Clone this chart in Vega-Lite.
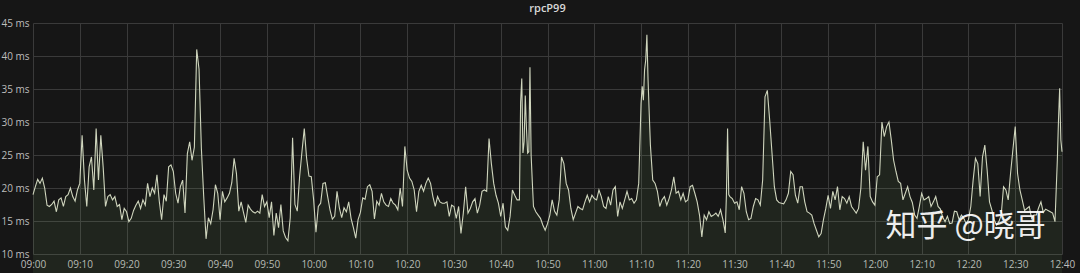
{
  "$schema": "https://vega.github.io/schema/vega-lite/v6.json",
  "width": 1029,
  "height": 231,
  "autosize": "none",
  "padding": {"left": 33, "top": 23, "right": 18, "bottom": 19},
  "background": "#161616",
  "config": {"view": {"stroke": null}},
  "title": {"text": "rpcP99", "color": "#d8d8d8", "fontSize": 11, "fontWeight": 600, "font": "Open Sans", "offset": 4, "anchor": "middle"},
  "data": {"values": [
      {"t":"2020-01-01T09:00:00","v":19},{"t":"2020-01-01T09:00:30","v":20.2},{"t":"2020-01-01T09:01:00","v":21.3},{"t":"2020-01-01T09:01:30","v":20.7},{"t":"2020-01-01T09:02:00","v":21.5},{"t":"2020-01-01T09:02:30","v":20},{"t":"2020-01-01T09:03:00","v":17.4},{"t":"2020-01-01T09:03:30","v":17.2},{"t":"2020-01-01T09:04:00","v":17.5},{"t":"2020-01-01T09:04:30","v":18},{"t":"2020-01-01T09:05:00","v":16.4},{"t":"2020-01-01T09:05:30","v":18.2},{"t":"2020-01-01T09:06:00","v":18.5},{"t":"2020-01-01T09:06:30","v":17.2},{"t":"2020-01-01T09:07:00","v":18.7},{"t":"2020-01-01T09:07:30","v":19},{"t":"2020-01-01T09:08:00","v":20},{"t":"2020-01-01T09:08:30","v":18.7},{"t":"2020-01-01T09:09:00","v":18},{"t":"2020-01-01T09:09:30","v":19.7},
      {"t":"2020-01-01T09:10:00","v":20.7},{"t":"2020-01-01T09:10:30","v":28},{"t":"2020-01-01T09:11:00","v":21.2},{"t":"2020-01-01T09:11:30","v":17.2},{"t":"2020-01-01T09:12:00","v":23.2},{"t":"2020-01-01T09:12:30","v":24.7},{"t":"2020-01-01T09:13:00","v":19.7},{"t":"2020-01-01T09:13:30","v":29},{"t":"2020-01-01T09:14:00","v":21.2},{"t":"2020-01-01T09:14:30","v":28},{"t":"2020-01-01T09:15:00","v":23.2},{"t":"2020-01-01T09:15:30","v":17.2},{"t":"2020-01-01T09:16:00","v":18.7},{"t":"2020-01-01T09:16:30","v":19},{"t":"2020-01-01T09:17:00","v":18.2},{"t":"2020-01-01T09:17:30","v":18.7},{"t":"2020-01-01T09:18:00","v":17.2},{"t":"2020-01-01T09:18:30","v":17.5},{"t":"2020-01-01T09:19:00","v":15.2},{"t":"2020-01-01T09:19:30","v":16.9},
      {"t":"2020-01-01T09:20:00","v":16.4},{"t":"2020-01-01T09:20:30","v":14.9},{"t":"2020-01-01T09:21:00","v":15.4},{"t":"2020-01-01T09:21:30","v":16.6},{"t":"2020-01-01T09:22:00","v":17.4},{"t":"2020-01-01T09:22:30","v":18},{"t":"2020-01-01T09:23:00","v":16.9},{"t":"2020-01-01T09:23:30","v":18.2},{"t":"2020-01-01T09:24:00","v":17.4},{"t":"2020-01-01T09:24:30","v":20.7},{"t":"2020-01-01T09:25:00","v":18.7},{"t":"2020-01-01T09:25:30","v":20},{"t":"2020-01-01T09:26:00","v":19.2},{"t":"2020-01-01T09:26:30","v":22},{"t":"2020-01-01T09:27:00","v":18},{"t":"2020-01-01T09:27:30","v":15.2},{"t":"2020-01-01T09:28:00","v":19},{"t":"2020-01-01T09:28:30","v":18},{"t":"2020-01-01T09:29:00","v":23.2},{"t":"2020-01-01T09:29:30","v":23.5},
      {"t":"2020-01-01T09:30:00","v":22.5},{"t":"2020-01-01T09:30:30","v":19.2},{"t":"2020-01-01T09:31:00","v":17.7},{"t":"2020-01-01T09:31:30","v":20.2},{"t":"2020-01-01T09:32:00","v":21.2},{"t":"2020-01-01T09:32:30","v":16.2},{"t":"2020-01-01T09:33:00","v":25.2},{"t":"2020-01-01T09:33:30","v":27},{"t":"2020-01-01T09:34:00","v":24.2},{"t":"2020-01-01T09:34:30","v":26.2},{"t":"2020-01-01T09:35:00","v":41},{"t":"2020-01-01T09:35:30","v":38},{"t":"2020-01-01T09:36:00","v":26},{"t":"2020-01-01T09:36:30","v":18.7},{"t":"2020-01-01T09:37:00","v":12.3},{"t":"2020-01-01T09:37:30","v":15.5},{"t":"2020-01-01T09:38:00","v":14.6},{"t":"2020-01-01T09:38:30","v":16.7},{"t":"2020-01-01T09:39:00","v":20.5},{"t":"2020-01-01T09:39:30","v":19.2},
      {"t":"2020-01-01T09:40:00","v":15.2},{"t":"2020-01-01T09:40:30","v":19.5},{"t":"2020-01-01T09:41:00","v":17.9},{"t":"2020-01-01T09:41:30","v":18.5},{"t":"2020-01-01T09:42:00","v":19.2},{"t":"2020-01-01T09:42:30","v":20.8},{"t":"2020-01-01T09:43:00","v":24.5},{"t":"2020-01-01T09:43:30","v":22.2},{"t":"2020-01-01T09:44:00","v":16.5},{"t":"2020-01-01T09:44:30","v":17.9},{"t":"2020-01-01T09:45:00","v":16.3},{"t":"2020-01-01T09:45:30","v":14.8},{"t":"2020-01-01T09:46:00","v":17.4},{"t":"2020-01-01T09:46:30","v":16.8},{"t":"2020-01-01T09:47:00","v":16.4},{"t":"2020-01-01T09:47:30","v":16.2},{"t":"2020-01-01T09:48:00","v":16.5},{"t":"2020-01-01T09:48:30","v":16.2},{"t":"2020-01-01T09:49:00","v":19},{"t":"2020-01-01T09:49:30","v":17.2},
      {"t":"2020-01-01T09:50:00","v":17.9},{"t":"2020-01-01T09:50:30","v":15.5},{"t":"2020-01-01T09:51:00","v":17.9},{"t":"2020-01-01T09:51:30","v":12.8},{"t":"2020-01-01T09:52:00","v":16.2},{"t":"2020-01-01T09:52:30","v":14},{"t":"2020-01-01T09:53:00","v":17.5},{"t":"2020-01-01T09:53:30","v":13.5},{"t":"2020-01-01T09:54:00","v":12.5},{"t":"2020-01-01T09:54:30","v":12},{"t":"2020-01-01T09:55:00","v":15.5},{"t":"2020-01-01T09:55:30","v":27.6},{"t":"2020-01-01T09:56:00","v":17.5},{"t":"2020-01-01T09:56:30","v":16.5},{"t":"2020-01-01T09:57:00","v":21.7},{"t":"2020-01-01T09:57:30","v":25.5},{"t":"2020-01-01T09:58:00","v":29},{"t":"2020-01-01T09:58:30","v":24.5},{"t":"2020-01-01T09:59:00","v":21.8},{"t":"2020-01-01T09:59:30","v":21.7},
      {"t":"2020-01-01T10:00:00","v":18.2},{"t":"2020-01-01T10:00:30","v":13.3},{"t":"2020-01-01T10:01:00","v":17.2},{"t":"2020-01-01T10:01:30","v":17.7},{"t":"2020-01-01T10:02:00","v":20.7},{"t":"2020-01-01T10:02:30","v":20.8},{"t":"2020-01-01T10:03:00","v":18.7},{"t":"2020-01-01T10:03:30","v":16.7},{"t":"2020-01-01T10:04:00","v":15.3},{"t":"2020-01-01T10:04:30","v":15.7},{"t":"2020-01-01T10:05:00","v":19.5},{"t":"2020-01-01T10:05:30","v":17},{"t":"2020-01-01T10:06:00","v":15.5},{"t":"2020-01-01T10:06:30","v":17},{"t":"2020-01-01T10:07:00","v":16.4},{"t":"2020-01-01T10:07:30","v":17.9},{"t":"2020-01-01T10:08:00","v":15.4},{"t":"2020-01-01T10:08:30","v":14},{"t":"2020-01-01T10:09:00","v":12.4},{"t":"2020-01-01T10:09:30","v":15.2},
      {"t":"2020-01-01T10:10:00","v":16.3},{"t":"2020-01-01T10:10:30","v":18.5},{"t":"2020-01-01T10:11:00","v":18.3},{"t":"2020-01-01T10:11:30","v":20.2},{"t":"2020-01-01T10:12:00","v":20.5},{"t":"2020-01-01T10:12:30","v":19.5},{"t":"2020-01-01T10:13:00","v":15.3},{"t":"2020-01-01T10:13:30","v":18},{"t":"2020-01-01T10:14:00","v":17.4},{"t":"2020-01-01T10:14:30","v":19.2},{"t":"2020-01-01T10:15:00","v":17.9},{"t":"2020-01-01T10:15:30","v":17.4},{"t":"2020-01-01T10:16:00","v":17.2},{"t":"2020-01-01T10:16:30","v":18.4},{"t":"2020-01-01T10:17:00","v":17.7},{"t":"2020-01-01T10:17:30","v":17.4},{"t":"2020-01-01T10:18:00","v":16.7},{"t":"2020-01-01T10:18:30","v":20},{"t":"2020-01-01T10:19:00","v":17.2},{"t":"2020-01-01T10:19:30","v":26.3},
      {"t":"2020-01-01T10:20:00","v":22.7},{"t":"2020-01-01T10:20:30","v":21.5},{"t":"2020-01-01T10:21:00","v":21},{"t":"2020-01-01T10:21:30","v":19.7},{"t":"2020-01-01T10:22:00","v":16.4},{"t":"2020-01-01T10:22:30","v":19.5},{"t":"2020-01-01T10:23:00","v":20.4},{"t":"2020-01-01T10:23:30","v":19.5},{"t":"2020-01-01T10:24:00","v":20.7},{"t":"2020-01-01T10:24:30","v":21.5},{"t":"2020-01-01T10:25:00","v":20.7},{"t":"2020-01-01T10:25:30","v":18.7},{"t":"2020-01-01T10:26:00","v":17.2},{"t":"2020-01-01T10:26:30","v":18.7},{"t":"2020-01-01T10:27:00","v":17.9},{"t":"2020-01-01T10:27:30","v":17.7},{"t":"2020-01-01T10:28:00","v":17.7},{"t":"2020-01-01T10:28:30","v":17.9},{"t":"2020-01-01T10:29:00","v":15.7},{"t":"2020-01-01T10:29:30","v":17.4},
      {"t":"2020-01-01T10:30:00","v":17.2},{"t":"2020-01-01T10:30:30","v":15.4},{"t":"2020-01-01T10:31:00","v":17.2},{"t":"2020-01-01T10:31:30","v":13.1},{"t":"2020-01-01T10:32:00","v":16.2},{"t":"2020-01-01T10:32:30","v":20.2},{"t":"2020-01-01T10:33:00","v":16.2},{"t":"2020-01-01T10:33:30","v":16.9},{"t":"2020-01-01T10:34:00","v":17.9},{"t":"2020-01-01T10:34:30","v":18.4},{"t":"2020-01-01T10:35:00","v":16.2},{"t":"2020-01-01T10:35:30","v":17.4},{"t":"2020-01-01T10:36:00","v":19.5},{"t":"2020-01-01T10:36:30","v":19.7},{"t":"2020-01-01T10:37:00","v":19.5},{"t":"2020-01-01T10:37:30","v":27.5},{"t":"2020-01-01T10:38:00","v":23.7},{"t":"2020-01-01T10:38:30","v":20.7},{"t":"2020-01-01T10:39:00","v":18.9},{"t":"2020-01-01T10:39:30","v":17.7},
      {"t":"2020-01-01T10:40:00","v":15.7},{"t":"2020-01-01T10:40:30","v":17.7},{"t":"2020-01-01T10:41:00","v":14.1},{"t":"2020-01-01T10:41:30","v":13.6},{"t":"2020-01-01T10:42:00","v":15.7},{"t":"2020-01-01T10:42:30","v":19.7},{"t":"2020-01-01T10:43:00","v":18.9},{"t":"2020-01-01T10:43:30","v":18.2},{"t":"2020-01-01T10:44:00","v":18.2},{"t":"2020-01-01T10:44:15","v":33},{"t":"2020-01-01T10:44:30","v":36.6},{"t":"2020-01-01T10:44:45","v":25.3},{"t":"2020-01-01T10:45:00","v":27},{"t":"2020-01-01T10:45:15","v":34},{"t":"2020-01-01T10:45:30","v":29},{"t":"2020-01-01T10:45:45","v":25.3},{"t":"2020-01-01T10:46:00","v":25.5},{"t":"2020-01-01T10:46:15","v":38.3},{"t":"2020-01-01T10:46:30","v":25},{"t":"2020-01-01T10:46:45","v":21},{"t":"2020-01-01T10:47:00","v":17.2},{"t":"2020-01-01T10:47:30","v":16.4},{"t":"2020-01-01T10:48:00","v":15.9},{"t":"2020-01-01T10:48:30","v":15.4},{"t":"2020-01-01T10:49:00","v":14.4},{"t":"2020-01-01T10:49:30","v":13.6},
      {"t":"2020-01-01T10:50:00","v":14.6},{"t":"2020-01-01T10:50:30","v":15.9},{"t":"2020-01-01T10:51:00","v":18.2},{"t":"2020-01-01T10:51:30","v":16.5},{"t":"2020-01-01T10:52:00","v":15.9},{"t":"2020-01-01T10:52:30","v":18.2},{"t":"2020-01-01T10:53:00","v":24.7},{"t":"2020-01-01T10:53:30","v":23.7},{"t":"2020-01-01T10:54:00","v":20.7},{"t":"2020-01-01T10:54:30","v":19.7},{"t":"2020-01-01T10:55:00","v":16.9},{"t":"2020-01-01T10:55:30","v":15.2},{"t":"2020-01-01T10:56:00","v":16.2},{"t":"2020-01-01T10:56:30","v":17.2},{"t":"2020-01-01T10:57:00","v":16.9},{"t":"2020-01-01T10:57:30","v":16.7},{"t":"2020-01-01T10:58:00","v":17.9},{"t":"2020-01-01T10:58:30","v":18.9},{"t":"2020-01-01T10:59:00","v":17.9},{"t":"2020-01-01T10:59:30","v":18.9},
      {"t":"2020-01-01T11:00:00","v":18.4},{"t":"2020-01-01T11:00:30","v":18.2},{"t":"2020-01-01T11:01:00","v":19.7},{"t":"2020-01-01T11:01:30","v":18.7},{"t":"2020-01-01T11:02:00","v":17.2},{"t":"2020-01-01T11:02:30","v":16.9},{"t":"2020-01-01T11:03:00","v":18.7},{"t":"2020-01-01T11:03:30","v":17.4},{"t":"2020-01-01T11:04:00","v":19.7},{"t":"2020-01-01T11:04:30","v":20.2},{"t":"2020-01-01T11:05:00","v":15.7},{"t":"2020-01-01T11:05:30","v":17.9},{"t":"2020-01-01T11:06:00","v":16.9},{"t":"2020-01-01T11:06:30","v":18.2},{"t":"2020-01-01T11:07:00","v":19.5},{"t":"2020-01-01T11:07:30","v":18.2},{"t":"2020-01-01T11:08:00","v":18.4},{"t":"2020-01-01T11:08:30","v":17.7},{"t":"2020-01-01T11:09:00","v":18.2},{"t":"2020-01-01T11:09:30","v":20.7},
      {"t":"2020-01-01T11:10:00","v":32.8},{"t":"2020-01-01T11:10:15","v":35.4},{"t":"2020-01-01T11:10:30","v":33.3},{"t":"2020-01-01T11:10:45","v":37.9},{"t":"2020-01-01T11:11:00","v":39.4},{"t":"2020-01-01T11:11:15","v":43.2},{"t":"2020-01-01T11:11:30","v":36.4},{"t":"2020-01-01T11:11:45","v":31.3},{"t":"2020-01-01T11:12:00","v":26.5},{"t":"2020-01-01T11:12:30","v":21.2},{"t":"2020-01-01T11:13:00","v":20.7},{"t":"2020-01-01T11:13:30","v":19.5},{"t":"2020-01-01T11:14:00","v":17.2},{"t":"2020-01-01T11:14:30","v":18.2},{"t":"2020-01-01T11:15:00","v":18.7},{"t":"2020-01-01T11:15:30","v":17.4},{"t":"2020-01-01T11:16:00","v":18.4},{"t":"2020-01-01T11:16:30","v":19.7},{"t":"2020-01-01T11:17:00","v":21.7},{"t":"2020-01-01T11:17:30","v":19.2},{"t":"2020-01-01T11:18:00","v":19.5},{"t":"2020-01-01T11:18:30","v":18.2},{"t":"2020-01-01T11:19:00","v":19.2},{"t":"2020-01-01T11:19:30","v":17.9},
      {"t":"2020-01-01T11:20:00","v":18.2},{"t":"2020-01-01T11:20:30","v":20.2},{"t":"2020-01-01T11:21:00","v":20.4},{"t":"2020-01-01T11:21:30","v":19.2},{"t":"2020-01-01T11:22:00","v":17.9},{"t":"2020-01-01T11:22:30","v":15.9},{"t":"2020-01-01T11:23:00","v":12.6},{"t":"2020-01-01T11:23:30","v":15.9},{"t":"2020-01-01T11:24:00","v":15.2},{"t":"2020-01-01T11:24:30","v":16.4},{"t":"2020-01-01T11:25:00","v":15.7},{"t":"2020-01-01T11:25:30","v":15.9},{"t":"2020-01-01T11:26:00","v":16.2},{"t":"2020-01-01T11:26:30","v":15.7},{"t":"2020-01-01T11:27:00","v":16.7},{"t":"2020-01-01T11:27:30","v":15.2},{"t":"2020-01-01T11:28:00","v":13.2},{"t":"2020-01-01T11:28:15","v":18.9},{"t":"2020-01-01T11:28:30","v":29},{"t":"2020-01-01T11:28:45","v":19},{"t":"2020-01-01T11:29:00","v":18.7},{"t":"2020-01-01T11:29:30","v":18.4},
      {"t":"2020-01-01T11:30:00","v":17.7},{"t":"2020-01-01T11:30:30","v":17.9},{"t":"2020-01-01T11:31:00","v":16.7},{"t":"2020-01-01T11:31:30","v":20.2},{"t":"2020-01-01T11:32:00","v":19.2},{"t":"2020-01-01T11:32:30","v":16.4},{"t":"2020-01-01T11:33:00","v":15.2},{"t":"2020-01-01T11:33:30","v":15.4},{"t":"2020-01-01T11:34:00","v":17.2},{"t":"2020-01-01T11:34:30","v":18.4},{"t":"2020-01-01T11:35:00","v":18.2},{"t":"2020-01-01T11:35:30","v":17.4},{"t":"2020-01-01T11:36:00","v":21.2},{"t":"2020-01-01T11:36:30","v":33.8},{"t":"2020-01-01T11:37:00","v":34.8},{"t":"2020-01-01T11:37:30","v":30.3},{"t":"2020-01-01T11:38:00","v":25.3},{"t":"2020-01-01T11:38:30","v":20.2},{"t":"2020-01-01T11:39:00","v":18.2},{"t":"2020-01-01T11:39:30","v":17.8},
      {"t":"2020-01-01T11:40:00","v":17.7},{"t":"2020-01-01T11:40:30","v":17.6},{"t":"2020-01-01T11:41:00","v":18.2},{"t":"2020-01-01T11:41:30","v":19.2},{"t":"2020-01-01T11:42:00","v":22.5},{"t":"2020-01-01T11:42:30","v":22},{"t":"2020-01-01T11:43:00","v":18.9},{"t":"2020-01-01T11:43:30","v":17.7},{"t":"2020-01-01T11:44:00","v":20.2},{"t":"2020-01-01T11:44:30","v":20.2},{"t":"2020-01-01T11:45:00","v":17.9},{"t":"2020-01-01T11:45:30","v":16.4},{"t":"2020-01-01T11:46:00","v":16.2},{"t":"2020-01-01T11:46:30","v":15.9},{"t":"2020-01-01T11:47:00","v":14.6},{"t":"2020-01-01T11:47:30","v":13.6},{"t":"2020-01-01T11:48:00","v":12.6},{"t":"2020-01-01T11:48:30","v":13.1},{"t":"2020-01-01T11:49:00","v":15.2},{"t":"2020-01-01T11:49:30","v":16.9},
      {"t":"2020-01-01T11:50:00","v":18.9},{"t":"2020-01-01T11:50:30","v":16.9},{"t":"2020-01-01T11:51:00","v":19.5},{"t":"2020-01-01T11:51:30","v":18.2},{"t":"2020-01-01T11:52:00","v":20.2},{"t":"2020-01-01T11:52:30","v":16.7},{"t":"2020-01-01T11:53:00","v":18.7},{"t":"2020-01-01T11:53:30","v":18.4},{"t":"2020-01-01T11:54:00","v":17.7},{"t":"2020-01-01T11:54:30","v":18.7},{"t":"2020-01-01T11:55:00","v":17.2},{"t":"2020-01-01T11:55:30","v":16.7},{"t":"2020-01-01T11:56:00","v":16.2},{"t":"2020-01-01T11:56:30","v":16.9},{"t":"2020-01-01T11:57:00","v":20},{"t":"2020-01-01T11:57:30","v":27},{"t":"2020-01-01T11:58:00","v":22.7},{"t":"2020-01-01T11:58:30","v":26.3},{"t":"2020-01-01T11:59:00","v":18.7},{"t":"2020-01-01T11:59:30","v":17.9},
      {"t":"2020-01-01T12:00:00","v":17.4},{"t":"2020-01-01T12:00:30","v":21.7},{"t":"2020-01-01T12:01:00","v":22},{"t":"2020-01-01T12:01:30","v":30},{"t":"2020-01-01T12:02:00","v":27.8},{"t":"2020-01-01T12:02:30","v":29.3},{"t":"2020-01-01T12:03:00","v":30},{"t":"2020-01-01T12:03:30","v":27.3},{"t":"2020-01-01T12:04:00","v":24.2},{"t":"2020-01-01T12:04:30","v":22.5},{"t":"2020-01-01T12:05:00","v":21},{"t":"2020-01-01T12:05:30","v":20.7},{"t":"2020-01-01T12:06:00","v":18.2},{"t":"2020-01-01T12:06:30","v":19.2},{"t":"2020-01-01T12:07:00","v":20.2},{"t":"2020-01-01T12:07:30","v":18.7},{"t":"2020-01-01T12:08:00","v":17.8},{"t":"2020-01-01T12:08:30","v":15.9},{"t":"2020-01-01T12:09:00","v":15.4},{"t":"2020-01-01T12:09:30","v":17.2},
      {"t":"2020-01-01T12:10:00","v":19.2},{"t":"2020-01-01T12:10:30","v":18.2},{"t":"2020-01-01T12:11:00","v":18.4},{"t":"2020-01-01T12:11:30","v":18.7},{"t":"2020-01-01T12:12:00","v":17.2},{"t":"2020-01-01T12:12:30","v":17.9},{"t":"2020-01-01T12:13:00","v":18.7},{"t":"2020-01-01T12:13:30","v":17.2},{"t":"2020-01-01T12:14:00","v":16.8},{"t":"2020-01-01T12:14:30","v":15.6},{"t":"2020-01-01T12:15:00","v":14.9},{"t":"2020-01-01T12:15:30","v":15.7},{"t":"2020-01-01T12:16:00","v":14.6},{"t":"2020-01-01T12:16:30","v":14.7},{"t":"2020-01-01T12:17:00","v":16.5},{"t":"2020-01-01T12:17:30","v":16.4},{"t":"2020-01-01T12:18:00","v":15.2},{"t":"2020-01-01T12:18:30","v":15.9},{"t":"2020-01-01T12:19:00","v":15.4},{"t":"2020-01-01T12:19:30","v":14.6},
      {"t":"2020-01-01T12:20:00","v":15.2},{"t":"2020-01-01T12:20:30","v":17.2},{"t":"2020-01-01T12:21:00","v":21.2},{"t":"2020-01-01T12:21:30","v":24.5},{"t":"2020-01-01T12:22:00","v":23.7},{"t":"2020-01-01T12:22:30","v":18.7},{"t":"2020-01-01T12:23:00","v":24.7},{"t":"2020-01-01T12:23:30","v":26.5},{"t":"2020-01-01T12:24:00","v":22.7},{"t":"2020-01-01T12:24:30","v":17.9},{"t":"2020-01-01T12:25:00","v":16.7},{"t":"2020-01-01T12:25:30","v":15.2},{"t":"2020-01-01T12:26:00","v":14.4},{"t":"2020-01-01T12:26:30","v":14.9},{"t":"2020-01-01T12:27:00","v":15.9},{"t":"2020-01-01T12:27:30","v":20.2},{"t":"2020-01-01T12:28:00","v":19.7},{"t":"2020-01-01T12:28:30","v":18.2},{"t":"2020-01-01T12:29:00","v":22.2},{"t":"2020-01-01T12:29:30","v":25.8},
      {"t":"2020-01-01T12:30:00","v":29.3},{"t":"2020-01-01T12:30:30","v":22.2},{"t":"2020-01-01T12:31:00","v":19.7},{"t":"2020-01-01T12:31:30","v":18.2},{"t":"2020-01-01T12:32:00","v":16.6},{"t":"2020-01-01T12:32:30","v":16.9},{"t":"2020-01-01T12:33:00","v":17.2},{"t":"2020-01-01T12:33:30","v":15.4},{"t":"2020-01-01T12:34:00","v":15.9},{"t":"2020-01-01T12:34:30","v":15.9},{"t":"2020-01-01T12:35:00","v":17},{"t":"2020-01-01T12:35:30","v":17.9},{"t":"2020-01-01T12:36:00","v":16.3},{"t":"2020-01-01T12:36:30","v":16.8},{"t":"2020-01-01T12:37:00","v":16.6},{"t":"2020-01-01T12:37:30","v":16.4},{"t":"2020-01-01T12:38:00","v":16.2},{"t":"2020-01-01T12:38:30","v":14.9},{"t":"2020-01-01T12:39:00","v":24.2},{"t":"2020-01-01T12:39:15","v":30.3},{"t":"2020-01-01T12:39:30","v":35.1},{"t":"2020-01-01T12:39:45","v":27.3},{"t":"2020-01-01T12:40:00","v":25.5}
  ]},
  "encoding": {
    "x": {
      "field": "t", "type": "temporal",
      "scale": {"nice": false},
      "axis": {"title": null, "format": "%H:%M",
        "values": [
          {"year": 2020, "month": 1, "date": 1, "hours": 9, "minutes": 0},
          {"year": 2020, "month": 1, "date": 1, "hours": 9, "minutes": 10},
          {"year": 2020, "month": 1, "date": 1, "hours": 9, "minutes": 20},
          {"year": 2020, "month": 1, "date": 1, "hours": 9, "minutes": 30},
          {"year": 2020, "month": 1, "date": 1, "hours": 9, "minutes": 40},
          {"year": 2020, "month": 1, "date": 1, "hours": 9, "minutes": 50},
          {"year": 2020, "month": 1, "date": 1, "hours": 10, "minutes": 0},
          {"year": 2020, "month": 1, "date": 1, "hours": 10, "minutes": 10},
          {"year": 2020, "month": 1, "date": 1, "hours": 10, "minutes": 20},
          {"year": 2020, "month": 1, "date": 1, "hours": 10, "minutes": 30},
          {"year": 2020, "month": 1, "date": 1, "hours": 10, "minutes": 40},
          {"year": 2020, "month": 1, "date": 1, "hours": 10, "minutes": 50},
          {"year": 2020, "month": 1, "date": 1, "hours": 11, "minutes": 0},
          {"year": 2020, "month": 1, "date": 1, "hours": 11, "minutes": 10},
          {"year": 2020, "month": 1, "date": 1, "hours": 11, "minutes": 20},
          {"year": 2020, "month": 1, "date": 1, "hours": 11, "minutes": 30},
          {"year": 2020, "month": 1, "date": 1, "hours": 11, "minutes": 40},
          {"year": 2020, "month": 1, "date": 1, "hours": 11, "minutes": 50},
          {"year": 2020, "month": 1, "date": 1, "hours": 12, "minutes": 0},
          {"year": 2020, "month": 1, "date": 1, "hours": 12, "minutes": 10},
          {"year": 2020, "month": 1, "date": 1, "hours": 12, "minutes": 20},
          {"year": 2020, "month": 1, "date": 1, "hours": 12, "minutes": 30},
          {"year": 2020, "month": 1, "date": 1, "hours": 12, "minutes": 40}
        ],
        "grid": true, "gridColor": "#3a3a3a", "gridWidth": 1, "domain": false, "ticks": false, "labelColor": "#bdbdbd", "labelFontSize": 10, "labelFont": "Open Sans", "labelPadding": 5, "labelFlush": false, "labelOverlap": false}
    },
    "y": {
      "field": "v", "type": "quantitative",
      "scale": {"domain": [10, 45], "nice": false, "zero": false},
      "axis": {"title": null, "values": [10, 15, 20, 25, 30, 35, 40, 45], "labelExpr": "datum.value + ' ms'", "labelOverlap": false, "grid": true, "gridColor": "#3a3a3a", "gridWidth": 1, "domain": false, "ticks": false, "labelColor": "#bdbdbd", "labelFontSize": 10, "labelFont": "Open Sans", "labelPadding": 4}
    }
  },
  "layer": [
    {"mark": {"type": "area", "color": "#7eb26d", "opacity": 0.1}, "encoding": {}},
    {"mark": {"type": "line", "color": "#cfd5bd", "strokeWidth": 1.1}, "encoding": {}},
    {
      "data": {"values": [{"t": "2020-01-01T12:19:24", "v": 14.1, "label": "知乎 @晓哥"}]},
      "mark": {"type": "text", "font": "Noto Sans CJK SC", "fontSize": 31, "color": "#ffffff", "align": "center", "baseline": "middle", "opacity": 0.92},
      "encoding": {"text": {"field": "label", "type": "nominal"}}
    }
  ]
}
